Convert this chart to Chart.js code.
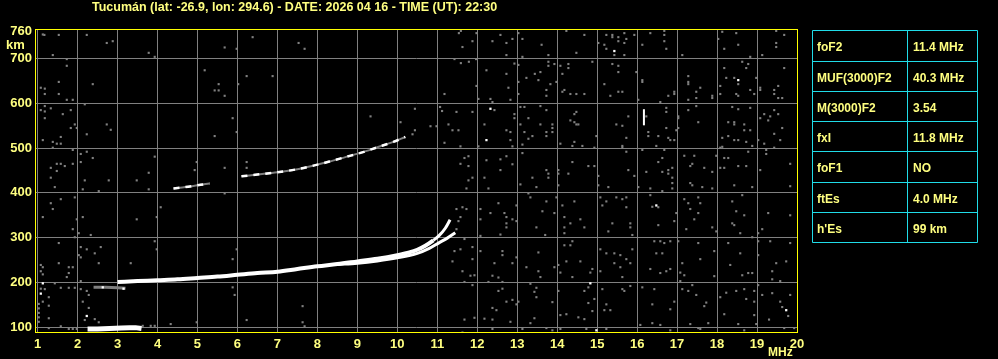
<!DOCTYPE html>
<html>
<head>
<meta charset="utf-8">
<style>
html, body { margin: 0; padding: 0; background: #000; }
#iono { display: block; }
</style>
<script src="https://cdn.jsdelivr.net/npm/chart.js@4.4.0/dist/chart.umd.min.js"></script>
</head>
<body>
<canvas id="iono" width="998" height="359"></canvas>
<script>
const titleText = 'Tucumán (lat: -26.9, lon: 294.6) - DATE: 2026 04 16 - TIME (UT): 22:30';
const freqTicks = [1, 2, 3, 4, 5, 6, 7, 8, 9, 10, 11, 12, 13, 14, 15, 16, 17, 18, 19, 20];
const heightTicks = [100, 200, 300, 400, 500, 600, 700, 760];

const paramNames = ['foF2', 'MUF(3000)F2', 'M(3000)F2', 'fxI', 'foF1', 'ftEs', "h'Es"];
const paramValues = ['11.4 MHz', '40.3 MHz', '3.54', '11.8 MHz', 'NO', '4.0 MHz', '99 km'];

// F2 trace, ordinary and extraordinary branch
const f2MHz = [3.0, 3.5, 4.0, 4.5, 5.0, 5.5, 6.0, 6.5, 7.0, 7.5, 8.0, 8.5, 9.0, 9.5, 10.0, 10.3, 10.5, 10.7, 10.9, 11.05, 11.2, 11.32];
const f2Km  = [201, 203, 205, 207, 210, 213, 217, 221, 224, 230, 236, 241, 247, 253, 261, 267, 273, 282, 294, 305, 321, 340];
const xMHz = [8.5, 9.0, 9.5, 10.0, 10.5, 10.8, 11.05, 11.25, 11.45];
const xKm  = [240, 243, 248, 255, 265, 276, 289, 299, 311];
// low start of F trace
const lowMHz = [2.4, 2.7, 3.0, 3.2];
const lowKm  = [189, 189, 188, 187];
// second hop
const hop2MHz = [4.4, 4.7, 5.0, 5.3, 5.7, 6.1, 6.5, 7.0, 7.5, 7.9, 8.3, 8.7, 9.1, 9.5, 9.9, 10.2];
const hop2Km  = [410, 413, 417, 421, null, 437, 441, 446, 453, 461, 470, 480, 490, 502, 514, 525];
// sporadic E
const esMHz = [2.25, 2.5, 2.8, 3.1, 3.3, 3.45, 3.6];
const esKm  = [96, 96, 97, 98, 99, 99, 97];
// short vertical echo near 16 MHz
const markMHz = [16.17, 16.17];
const markKm  = [551, 587];

const whiteMHz = [1.13, 1.08, 2.23, 12.33, 12.23, 16.48, 14.83, 14.98, 19.73, 18.53, 15.43, 2.63, 3.15];
const whiteKm  = [198, 175, 125, 588, 518, 372, 198, 93, 138, 652, 717, 189, 186];

const noiseMHz = [
  1.13,1.17,1.53,2.23,2.73,2.88,1.38,3.78,3.93,5.68,5.98,6.38,1.73,1.73,5.18,1.08,1.18,1.18,1.53,1.53,
  2.38,5.53,5.43,5.53,5.68,6.02,6.23,6.88,1.73,1.88,2.18,1.18,1.08,1.18,1.33,1.83,1.63,1.18,5.88,2.73,
  2.83,1.93,1.83,1.98,2.23,5.98,5.43,1.13,1.58,1.38,1.48,1.58,1.38,1.88,2.08,2.23,2.38,3.93,2.08,1.48,
  1.58,1.68,1.88,1.33,1.48,3.78,5.68,6.23,6.23,4.98,4.93,1.33,2.18,2.78,3.48,
  7.53,7.68,11.54,11.59,11.88,11.98,12.38,12.58,12.73,12.88,13.03,13.13,13.61,11.63,12.73,13.13,11.43,11.59,11.79,11.97,
  12.23,13.03,12.93,12.73,13.23,13.44,13.58,13.53,12.78,13.03,13.03,11.18,11.98,12.03,12.33,12.38,12.83,13.08,13.18,13.58,
  12.43,11.88,11.48,11.07,11.12,12.93,12.93,13.28,9.33,10.08,10.44,11.28,11.38,11.53,12.18,12.73,12.83,13.08,13.18,13.38,
  13.28,13.58,12.83,13.13,11.18,11.58,12.03,12.88,13.13,11.68,11.78,11.58,11.78,12.23,12.58,12.73,12.88,12.58,13.38,11.88,
  12.18,11.78,10.44,10.38,10.83,10.98,
  14.23,14.68,13.78,14.48,15.23,15.38,15.38,15.53,15.68,15.93,15.73,15.53,15.68,15.18,15.23,15.03,15.43,15.68,16.13,16.33,
  16.68,16.68,16.68,16.73,17.13,18.13,18.48,18.03,18.53,18.18,18.83,19.48,19.68,19.48,19.48,19.13,13.78,13.78,13.93,14.08,
  14.28,14.28,14.13,13.83,13.98,14.18,14.13,14.33,14.48,14.68,13.73,13.73,14.88,15.38,15.53,15.53,15.18,15.53,15.63,15.33,
  15.98,16.13,16.13,16.93,16.93,17.28,17.28,17.28,17.58,17.48,17.48,17.28,17.88,17.88,18.63,18.78,18.73,18.18,18.43,18.23,
  18.08,18.08,18.53,18.48,18.53,18.83,18.93,19.08,19.08,19.43,19.43,19.53,19.63,19.53,19.68,18.98,16.03,16.58,16.78,
  13.73,14.48,14.43,14.33,14.43,14.48,14.53,13.88,13.88,13.88,13.73,13.73,14.08,14.43,14.63,14.38,14.93,14.98,15.48,15.63,
  15.78,15.73,15.63,15.63,15.73,16.23,16.28,16.28,16.73,16.73,16.73,16.53,16.78,16.83,16.93,17.03,17.03,17.03,16.98,17.28,
  17.48,17.53,18.38,18.53,18.83,18.28,18.43,18.43,18.68,18.68,18.83,18.28,18.43,18.53,18.73,18.88,18.13,18.13,19.03,19.08,
  19.18,19.33,19.28,19.43,19.53,19.63,19.43,19.58,19.18,19.43,18.08,16.13,16.48,16.68,16.63,16.53,17.18,17.43,17.33,17.38,
  17.68,17.88,17.98,18.18,18.28,18.08,18.18,18.53,18.73,18.78,19.23,19.23,19.08,19.83,13.73,13.78,13.78,14.03,14.03,14.28,
  14.38,14.78,14.93,15.03,15.78,15.93,16.23,16.63,16.78,16.78,16.88,16.88,
  1.43,2.13,2.53,3.78,5.68,1.58,1.33,1.38,1.93,4.08,3.48,1.13,1.98,2.13,1.88,2.03,1.93,2.33,3.98,3.93,
  3.98,1.53,2.08,2.23,2.58,2.43,2.03,2.08,2.53,3.33,1.53,1.08,1.13,1.78,1.88,1.08,1.13,1.78,1.73,2.08,
  5.98,5.88,1.08,1.18,1.43,1.58,1.78,1.93,2.08,2.23,2.28,1.28,1.28,1.13,2.13,2.28,1.28,2.18,2.43,2.53,
  5.88,5.93,6.23,4.98,4.33,1.58,1.28,1.78,1.88,1.98,3.63,3.83,3.93,1.03,1.03,1.03,1.03,1.03,
  11.73,12.28,13.08,13.48,13.28,13.33,12.98,11.48,11.63,11.73,12.08,12.08,12.33,12.53,12.68,12.73,12.73,12.73,12.88,12.98,
  13.48,13.63,11.58,11.53,11.48,12.08,12.58,11.68,11.43,11.58,11.88,12.08,12.63,12.63,11.88,12.43,12.88,12.98,13.23,13.53,
  11.38,11.63,11.83,11.93,11.68,11.88,12.28,12.38,12.53,12.63,12.63,12.53,13.53,13.58,13.33,13.48,13.43,13.48,12.73,12.88,
  13.03,12.98,12.38,12.48,11.68,11.93,12.18,12.38,12.83,13.13,13.33,13.43,12.38,7.63,7.63,7.68,11.63,
  14.03,15.03,15.28,16.03,16.33,16.63,16.88,16.88,17.33,17.38,17.63,17.88,18.43,18.88,19.83,13.73,13.98,14.13,14.43,15.08,
  15.13,15.23,15.48,15.63,15.73,15.73,16.33,16.38,16.53,16.98,17.18,17.28,17.33,17.53,17.58,17.43,17.53,18.38,18.48,18.68,
  18.63,19.28,19.83,13.93,14.18,14.18,14.18,14.33,14.58,14.68,15.28,15.38,15.83,15.83,15.88,16.53,16.93,17.23,17.88,17.98,
  18.38,18.43,18.58,18.88,19.03,19.13,13.7,14.18,14.38,14.33,15.23,15.08,15.43,15.58,15.73,15.88,15.83,15.43,15.58,14.58,
  14.23,14.03,13.93,14.08,14.83,14.88,15.08,14.38,15.63,16.43,16.58,16.68,16.83,16.48,16.63,16.33,16.58,16.73,16.83,17.03,
  17.13,17.08,17.18,17.08,17.53,17.58,17.93,17.93,18.28,18.33,18.58,18.63,18.78,18.88,19.03,19.03,19.33,19.48,19.73,19.38,
  19.38,19.58,19.83,14.78,14.68,14.93,14.78,14.88,14.68,14.53,14.03,13.88,14.08,14.23,15.13,15.23,15.33,15.18,15.63,15.68,
  15.83,16.13,16.43,16.38,16.93,16.83,17.13,17.28,17.38,17.48,17.73,17.68,18.18,18.23,18.08,18.48,18.68,18.93,18.93,18.73,
  19.03,19.13,19.38,19.58,19.63,19.83,19.78,18.93,19.3,14.08,14.73,15.23,16.08,16.38,16.58,16.83,17.33,17.53,17.78,17.58,
  18.53,18.68,18.98,19.68,19.93,13.73,13.88
];
const noiseKm = [
  754,753,753,753,735,739,708,713,704,725,722,748,699,684,674,635,633,621,648,621,
  643,643,629,629,617,643,661,661,608,608,598,594,585,582,589,585,576,567,567,553,
  541,553,545,545,531,536,527,518,525,514,510,510,501,496,487,492,478,481,469,465,
  465,460,465,456,449,445,456,469,456,469,451,434,428,428,428,
  735,722,757,762,739,757,739,753,735,744,757,744,731,726,708,704,699,690,693,699,
  674,686,689,666,657,666,670,652,635,648,621,621,639,610,610,603,608,592,592,594,
  585,581,581,592,583,576,567,567,571,558,588,553,540,540,553,540,536,553,536,527,
  521,553,518,508,512,504,504,504,489,478,482,465,460,473,475,482,464,451,434,434,
  434,428,540,531,549,549,
  762,753,708,713,753,753,748,748,757,753,744,739,735,731,722,735,708,708,731,757,
  762,753,739,722,708,760,757,744,731,722,704,762,753,735,726,708,693,684,688,684,
  688,679,666,643,648,630,626,621,621,621,630,617,693,688,684,670,643,626,626,617,
  670,652,648,626,621,661,648,643,635,626,612,608,617,612,693,688,679,679,657,657,
  639,621,643,621,617,630,621,635,630,630,621,639,612,612,679,657,608,603,617,
  585,581,576,562,558,553,553,553,545,536,536,527,510,514,505,505,501,527,553,550,
  571,523,505,501,492,571,536,527,590,581,545,527,523,518,518,571,567,545,540,585,
  594,558,592,587,590,558,558,553,553,540,540,527,518,518,514,505,523,503,518,567,
  576,571,562,585,576,545,532,518,510,501,501,496,505,496,478,469,483,483,460,465,
  456,447,483,478,478,456,456,460,460,492,496,487,451,465,451,443,434,451,443,443,
  469,460,460,438,451,438,447,447,451,443,456,434,
  413,408,404,408,399,386,377,364,390,368,341,346,341,346,319,310,301,306,346,292,
  274,288,279,274,279,265,261,256,243,243,243,239,234,234,234,225,218,221,212,203,
  274,252,186,185,198,188,188,188,185,181,172,167,148,157,157,143,120,116,118,111,
  189,172,116,111,107,102,98,96,96,96,103,103,103,112,122,132,142,152,
  410,410,419,413,399,390,372,364,368,364,364,341,355,377,355,346,332,323,341,337,
  323,359,346,337,319,304,307,297,270,274,279,270,270,261,252,243,243,256,234,267,
  247,225,215,216,201,194,201,215,211,201,186,181,225,212,197,188,179,167,157,161,
  157,151,143,138,117,121,119,117,112,96,109,120,96,147,111,102,88,
  417,417,413,413,410,404,422,410,422,417,413,410,417,413,415,381,390,372,381,390,
  372,381,390,386,390,368,395,369,368,355,386,377,364,390,377,341,355,381,359,350,
  395,355,350,355,346,323,310,332,341,323,314,332,332,323,306,328,337,319,323,314,
  332,328,310,301,310,319,306,283,292,283,265,274,265,261,252,274,243,243,234,247,
  247,239,234,222,222,230,225,212,212,292,292,288,292,265,265,230,221,225,230,292,
  243,222,216,203,288,252,270,214,288,239,265,216,221,221,292,261,292,243,247,225,
  207,203,288,189,181,163,154,136,118,122,181,156,127,129,185,151,138,138,185,181,
  192,189,185,151,157,140,185,181,194,172,155,147,129,177,167,181,185,181,157,163,
  194,172,176,157,145,172,125,127,117,96,96,96,105,109,105,93,107,98,109,96,
  107,93,107,98,98,98,93
];

const yellow = '#ffff80';
const gridGray = '#808080';

function pts(xs, ys) {
  return xs.map((x, i) => ({ x: x, y: ys[i] }));
}

const framePlugin = {
  id: 'frame',
  afterDraw(chart) {
    const c = chart.ctx;
    const a = chart.chartArea;
    c.save();
    c.strokeStyle = '#ffff00';
    c.lineWidth = 1;
    c.strokeRect(a.left - 0.5, a.top - 0.5, a.right - a.left + 1, a.bottom - a.top);

    c.fillStyle = yellow;
    c.textBaseline = 'alphabetic';
    c.textAlign = 'left';
    c.font = 'bold 12.5px "Liberation Sans", Arial, sans-serif';
    c.fillText(titleText, 92, 11);
    c.font = 'bold 13px "Liberation Sans", Arial, sans-serif';
    c.fillText('km', 6, 49);
    c.font = 'bold 12px "Liberation Sans", Arial, sans-serif';
    c.fillText('MHz', 768, 356);

    // parameter table
    const x0 = 812.5, x1 = 907.5, x2 = 977.5;
    const rows = [30.5, 61.5, 91.5, 121.5, 151.5, 182.5, 212.5, 242.5];
    c.strokeStyle = '#20dce8';
    c.beginPath();
    rows.forEach(y => { c.moveTo(x0, y); c.lineTo(x2, y); });
    [x0, x1, x2].forEach(x => { c.moveTo(x, rows[0]); c.lineTo(x, rows[rows.length - 1]); });
    c.stroke();
    c.fillStyle = yellow;
    c.font = 'bold 12px "Liberation Sans", Arial, sans-serif';
    paramNames.forEach((n, i) => {
      const mid = (rows[i] + rows[i + 1]) / 2;
      c.fillText(n, 817, mid + 5);
      c.fillText(paramValues[i], 913, mid + 5);
    });
    c.restore();
  }
};

new Chart(document.getElementById('iono'), {
  type: 'scatter',
  data: {
    datasets: [
      {
        data: pts(markMHz, markKm), showLine: true, pointRadius: 0,
        borderColor: '#ffffff', borderWidth: 2
      },
      {
        data: pts(whiteMHz, whiteKm), pointStyle: 'rect', pointRadius: 1.6,
        backgroundColor: '#ffffff', borderWidth: 0
      },
      {
        data: pts(f2MHz, f2Km), showLine: true, pointRadius: 0,
        borderColor: '#ffffff', borderWidth: 4, cubicInterpolationMode: 'monotone',
        segment: { borderWidth: s => s.p0.parsed.x >= 10.9 ? 3 : undefined }
      },
      {
        data: pts(xMHz, xKm), showLine: true, pointRadius: 0,
        borderColor: '#ffffff', borderWidth: 3, cubicInterpolationMode: 'monotone'
      },
      {
        data: pts(esMHz, esKm), showLine: true, pointRadius: 0,
        borderColor: '#ffffff', borderWidth: 5, tension: 0
      },
      {
        data: pts(hop2MHz, hop2Km), showLine: true, pointRadius: 0, spanGaps: false,
        borderColor: '#ffffff', borderWidth: 2.5, borderDash: [6, 6], cubicInterpolationMode: 'monotone'
      },
      {
        data: pts(hop2MHz, hop2Km), showLine: true, pointRadius: 0, spanGaps: false,
        borderColor: gridGray, borderWidth: 2, cubicInterpolationMode: 'monotone'
      },
      {
        data: pts(lowMHz, lowKm), showLine: true, pointRadius: 0,
        borderColor: gridGray, borderWidth: 3
      },
      {
        data: pts(noiseMHz, noiseKm), pointStyle: 'rect', pointRadius: 1.5,
        backgroundColor: gridGray, borderWidth: 0
      }
    ]
  },
  options: {
    responsive: false,
    animation: false,
    layout: { padding: { top: 30, right: 201, left: 0, bottom: 0 } },
    plugins: {
      legend: { display: false },
      tooltip: { enabled: false }
    },
    scales: {
      x: {
        type: 'linear',
        min: 0.96,
        max: 20,
        afterBuildTicks: s => { s.ticks = freqTicks.map(v => ({ value: v })); },
        afterFit: s => { s.height = 26; },
        border: { display: false },
        grid: { color: gridGray, lineWidth: 1, drawTicks: false },
        ticks: {
          color: yellow, padding: 4, maxRotation: 0, autoSkip: false,
          font: { family: '"Liberation Sans", Arial, sans-serif', size: 13, weight: 'bold' }
        }
      },
      y: {
        type: 'linear',
        min: 87,
        max: 764,
        afterBuildTicks: s => { s.ticks = heightTicks.map(v => ({ value: v })); },
        afterFit: s => { s.width = 36; },
        border: { display: false },
        grid: {
          color: c => (c.tick && c.tick.value === 760) ? 'rgba(0,0,0,0)' : gridGray,
          lineWidth: 1, drawTicks: false
        },
        ticks: {
          color: yellow, padding: 4, autoSkip: false,
          font: { family: '"Liberation Sans", Arial, sans-serif', size: 13, weight: 'bold' }
        }
      }
    }
  },
  plugins: [framePlugin]
});
</script>
</body>
</html>
